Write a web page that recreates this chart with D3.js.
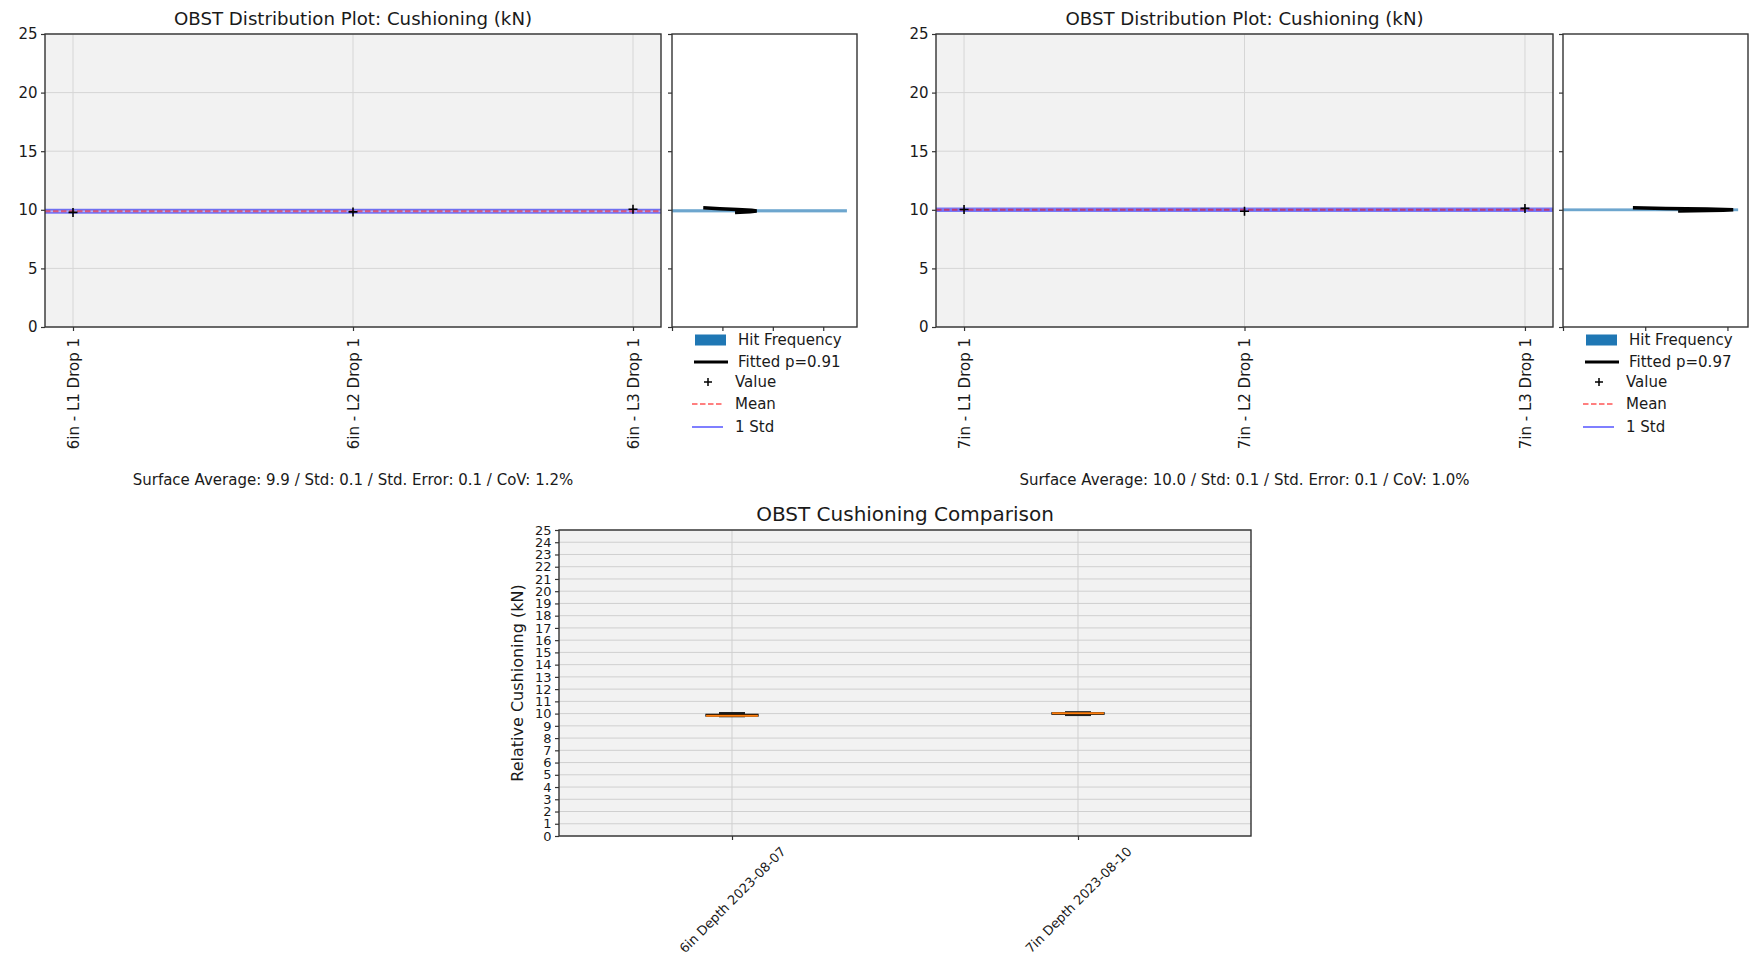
<!DOCTYPE html>
<html><head><meta charset="utf-8">
<script src="https://cdn.jsdelivr.net/npm/d3@7"></script>
<style>
body{margin:0;background:#fff;}
text{font-family:"DejaVu Sans",sans-serif;fill:#1a1a1a;}
</style>
</head><body>
<svg id="c" width="1756" height="953"></svg>
<script>
// ---------- DATA ----------
const yTicksTop = [0, 5, 10, 15, 20, 25];
const yTicksBottom = d3.range(0, 26, 1);

const cats6 = ["6in - L1 Drop 1", "6in - L2 Drop 1", "6in - L3 Drop 1"];
const vals6 = [9.78, 9.82, 10.05];
const histEdges6 = [9.78, 10.05];
const histDens6 = [3.47];
const fitVals6 = [10.17, 10.10, 10.03, 9.96, 9.90, 9.84, 9.78];
const fitDens6 = [0.62, 0.95, 1.30, 1.58, 1.68, 1.55, 1.25];
const fitP6 = "Fitted p=0.91";
const histTicks6 = [0, 1, 2, 3];
const histMax6 = 3.67;

const cats7 = ["7in - L1 Drop 1", "7in - L2 Drop 1", "7in - L3 Drop 1"];
const vals7 = [10.02, 9.88, 10.12];
const histEdges7 = [9.88, 10.12];
const histDens7 = [2.13];
const fitVals7 = [10.18, 10.12, 10.06, 10.01, 9.96, 9.90];
const fitDens7 = [0.85, 1.25, 1.75, 2.07, 1.95, 1.40];
const fitP7 = "Fitted p=0.97";
const histTicks7 = [0, 1, 2];
const histMax7 = 2.25;

const boxLabels = ["6in Depth 2023-08-07", "7in Depth 2023-08-10"];
const boxSeries = [vals6, vals7];

const legendLabels = ["Hit Frequency", null, "Value", "Mean", "1 Std"];

// ---------- STYLE ----------
const FS = 15;
const SPINE = "#333";
const GRID = "#d6d6d6";
const BG = "#f2f2f2";

const svg = d3.select("#c");

function fmtSummary(v) {
  const m = d3.mean(v);
  const s = Math.sqrt(d3.mean(v.map(d => (d - m) * (d - m))));
  return `Surface Average: ${m.toFixed(1)} / Std: ${s.toFixed(1)} / Std. Error: ${(s / Math.sqrt(v.length)).toFixed(1)} / CoV: ${(s / m * 100).toFixed(1)}%`;
}

function drawDist(o) {
  const g = svg.append("g");
  const [top, bot] = [34, 327];
  const y = d3.scaleLinear().domain([0, 25]).range([bot, top]);
  const x = d3.scalePoint().domain(o.cats).range(o.mainX).padding(0.1);
  const [x0, x1] = o.mainX;
  const m = d3.mean(o.vals);
  const s = Math.sqrt(d3.mean(o.vals.map(d => (d - m) * (d - m))));

  // title
  g.append("text").attr("x", (x0 + x1) / 2).attr("y", 19).attr("dy", "0.35em")
    .attr("text-anchor", "middle").style("font-size", "18.2px")
    .text("OBST Distribution Plot: Cushioning (kN)");

  // main background
  g.append("rect").attr("x", x0).attr("y", top).attr("width", x1 - x0).attr("height", bot - top).attr("fill", BG);
  // grid
  g.append("g").selectAll("line").data(yTicksTop).join("line")
    .attr("x1", x0).attr("x2", x1).attr("y1", d => y(d)).attr("y2", d => y(d))
    .attr("stroke", GRID).attr("stroke-width", 1);
  g.append("g").selectAll("line").data(o.cats).join("line")
    .attr("x1", d => x(d)).attr("x2", d => x(d)).attr("y1", top).attr("y2", bot)
    .attr("stroke", GRID).attr("stroke-width", 1);

  // std lines
  g.append("g").selectAll("line").data([m - s, m + s]).join("line")
    .attr("x1", x0).attr("x2", x1).attr("y1", d => y(d)).attr("y2", d => y(d))
    .attr("stroke", "#0000ff").attr("stroke-opacity", 0.5).attr("stroke-width", 2.2);
  // mean line
  g.append("line").attr("x1", x0).attr("x2", x1).attr("y1", y(m)).attr("y2", y(m))
    .attr("stroke", "#ff0000").attr("stroke-opacity", 0.5).attr("stroke-width", 2)
    .attr("stroke-dasharray", "5.5,2.5");
  // markers
  g.append("g").selectAll("path").data(o.vals).join("path")
    .attr("transform", (d, i) => `translate(${x(o.cats[i])},${y(d)})`)
    .attr("d", "M-4.5,0H4.5M0,-4.5V4.5").attr("stroke", "#000").attr("stroke-width", 1.6);

  // main axes
  const ay = g.append("g").attr("transform", `translate(${x0},0)`)
    .call(d3.axisLeft(y).tickValues(yTicksTop).tickSize(4).tickPadding(3.5));
  const ax = g.append("g").attr("transform", `translate(0,${bot})`)
    .call(d3.axisBottom(x).tickSize(4).tickPadding(3.5));
  [ay, ax].forEach(a => {
    a.select(".domain").remove();
    a.selectAll("line").attr("stroke", SPINE).attr("stroke-width", 1.2);
    a.selectAll("text").style("font-size", FS + "px").attr("fill", "#1a1a1a").style("font-family", "DejaVu Sans");
  });
  ax.selectAll("text").attr("transform", "rotate(-90)").attr("text-anchor", "end")
    .attr("x", -11).attr("y", 0).attr("dy", "0.35em");
  g.append("rect").attr("x", x0).attr("y", top).attr("width", x1 - x0).attr("height", bot - top)
    .attr("fill", "none").attr("stroke", SPINE).attr("stroke-width", 1.4);

  // summary
  g.append("text").attr("x", (x0 + x1) / 2).attr("y", 480).attr("dy", "0.35em")
    .attr("text-anchor", "middle").style("font-size", FS + "px").text(fmtSummary(o.vals));

  // ---------- histogram axes ----------
  const [h0, h1] = o.histX;
  const hx = d3.scaleLinear().domain([0, o.histMax]).range([h0, h1]);
  g.append("rect").attr("x", h0).attr("y", top).attr("width", h1 - h0).attr("height", bot - top).attr("fill", "#fff");
  g.append("g").selectAll("rect").data(o.histDens).join("rect")
    .attr("x", hx(0)).attr("width", d => hx(d) - hx(0))
    .attr("y", (d, i) => y(o.histEdges[i + 1]))
    .attr("height", (d, i) => Math.max(1.5, y(o.histEdges[i]) - y(o.histEdges[i + 1])))
    .attr("fill", "#1f77b4").attr("fill-opacity", 0.65);
  const fit = d3.line().x((d, i) => hx(o.fitDens[i])).y(d => y(d));
  g.append("path").datum(o.fitVals).attr("d", fit).attr("fill", "none")
    .attr("stroke", "#000").attr("stroke-width", 3.5);
  const hy = g.append("g").attr("transform", `translate(${h0},0)`)
    .call(d3.axisLeft(y).tickValues(yTicksTop).tickSize(4).tickFormat(""));
  const hxa = g.append("g").attr("transform", `translate(0,${bot})`)
    .call(d3.axisBottom(hx).tickValues(o.histTicks).tickSize(4).tickFormat(""));
  [hy, hxa].forEach(a => {
    a.select(".domain").remove();
    a.selectAll("line").attr("stroke", SPINE).attr("stroke-width", 1.2);
  });
  g.append("rect").attr("x", h0).attr("y", top).attr("width", h1 - h0).attr("height", bot - top)
    .attr("fill", "none").attr("stroke", SPINE).attr("stroke-width", 1.4);

  // legend
  const lg = g.append("g").attr("transform", `translate(${h0},0)`);
  const rows = [340, 362, 382, 404, 427];
  lg.append("rect").attr("x", 23).attr("y", rows[0] - 5.5).attr("width", 31).attr("height", 11).attr("fill", "#1f77b4");
  lg.append("line").attr("x1", 22).attr("x2", 56).attr("y1", rows[1]).attr("y2", rows[1]).attr("stroke", "#000").attr("stroke-width", 3);
  lg.append("path").attr("transform", `translate(36,${rows[2]})`).attr("d", "M-4,0H4M0,-4V4").attr("stroke", "#000").attr("stroke-width", 1.5);
  lg.append("line").attr("x1", 20).attr("x2", 51).attr("y1", rows[3]).attr("y2", rows[3])
    .attr("stroke", "#ff0000").attr("stroke-opacity", 0.5).attr("stroke-width", 1.8).attr("stroke-dasharray", "5.5,2.5");
  lg.append("line").attr("x1", 20).attr("x2", 51).attr("y1", rows[4]).attr("y2", rows[4])
    .attr("stroke", "#0000ff").attr("stroke-opacity", 0.5).attr("stroke-width", 2);
  const labels = legendLabels.map(d => d === null ? o.fitLabel : d);
  lg.selectAll("text.leg").data(labels).join("text").attr("class", "leg")
    .attr("x", (d, i) => i < 2 ? 66 : 63).attr("y", (d, i) => rows[i]).attr("dy", "0.35em")
    .style("font-size", FS + "px").text(d => d);
}

drawDist({cats: cats6, vals: vals6, histEdges: histEdges6, histDens: histDens6,
  fitVals: fitVals6, fitDens: fitDens6, fitLabel: fitP6, mainX: [45, 661], histX: [672, 857],
  histMax: histMax6, histTicks: histTicks6});
drawDist({cats: cats7, vals: vals7, histEdges: histEdges7, histDens: histDens7,
  fitVals: fitVals7, fitDens: fitDens7, fitLabel: fitP7, mainX: [936, 1553], histX: [1563, 1748],
  histMax: histMax7, histTicks: histTicks7});

// ---------- bottom comparison boxplot ----------
(function () {
  const [x0, x1, top, bot] = [559, 1251, 530, 836];
  const g = svg.append("g");
  const y = d3.scaleLinear().domain([0, 25]).range([bot, top]);
  const x = d3.scalePoint().domain(boxLabels).range([x0, x1]).padding(0.5);
  const step = x.step();
  const boxW = 0.15 * step;

  g.append("text").attr("x", (x0 + x1) / 2).attr("y", 514).attr("dy", "0.35em")
    .attr("text-anchor", "middle").style("font-size", "20px").text("OBST Cushioning Comparison");

  g.append("rect").attr("x", x0).attr("y", top).attr("width", x1 - x0).attr("height", bot - top).attr("fill", BG);
  g.append("g").selectAll("line").data(yTicksBottom).join("line")
    .attr("x1", x0).attr("x2", x1).attr("y1", d => y(d)).attr("y2", d => y(d))
    .attr("stroke", "#cfcfcf").attr("stroke-width", 1);
  g.append("g").selectAll("line").data(boxLabels).join("line")
    .attr("x1", d => x(d)).attr("x2", d => x(d)).attr("y1", top).attr("y2", bot)
    .attr("stroke", "#cfcfcf").attr("stroke-width", 1);

  boxSeries.forEach((vals, i) => {
    const v = vals.slice().sort(d3.ascending);
    const q1 = d3.quantile(v, 0.25), med = d3.quantile(v, 0.5), q3 = d3.quantile(v, 0.75);
    const lo = v[0], hi = v[v.length - 1];
    const cx = x(boxLabels[i]);
    const b = g.append("g");
    b.append("line").attr("x1", cx).attr("x2", cx).attr("y1", y(hi)).attr("y2", y(q3)).attr("stroke", "#000").attr("stroke-width", 1.3);
    b.append("line").attr("x1", cx).attr("x2", cx).attr("y1", y(q1)).attr("y2", y(lo)).attr("stroke", "#000").attr("stroke-width", 1.3);
    [lo, hi].forEach(c => b.append("line").attr("x1", cx - boxW / 4).attr("x2", cx + boxW / 4)
      .attr("y1", y(c)).attr("y2", y(c)).attr("stroke", "#222").attr("stroke-width", 2));
    b.append("rect").attr("x", cx - boxW / 2).attr("width", boxW).attr("y", y(q3))
      .attr("height", Math.max(0.5, y(q1) - y(q3))).attr("fill", "none").attr("stroke", "#000").attr("stroke-width", 1.3);
    b.append("line").attr("x1", cx - boxW / 2).attr("x2", cx + boxW / 2).attr("y1", y(med)).attr("y2", y(med))
      .attr("stroke", "#ff7f0e").attr("stroke-width", 2);
  });

  const ay = g.append("g").attr("transform", `translate(${x0},0)`)
    .call(d3.axisLeft(y).tickValues(yTicksBottom).tickSize(4).tickPadding(3.5));
  const ax = g.append("g").attr("transform", `translate(0,${bot})`)
    .call(d3.axisBottom(x).tickSize(4).tickPadding(3.5));
  [ay, ax].forEach(a => {
    a.select(".domain").remove();
    a.selectAll("line").attr("stroke", SPINE).attr("stroke-width", 1.2);
    a.selectAll("text").style("font-size", "13px").attr("fill", "#1a1a1a").style("font-family", "DejaVu Sans");
  });
  ax.selectAll("text").each(function () {
    const t = d3.select(this);
    const L = this.getComputedTextLength();
    const h = 13 * 1.1;
    const H = (L + h) * Math.SQRT1_2;
    t.attr("text-anchor", "middle").attr("dy", "0.35em").attr("y", 0)
      .attr("transform", `translate(0,${8 + H / 2}) rotate(-45)`);
  });
  g.append("rect").attr("x", x0).attr("y", top).attr("width", x1 - x0).attr("height", bot - top)
    .attr("fill", "none").attr("stroke", SPINE).attr("stroke-width", 1.4);

  g.append("text").attr("transform", `translate(517,683) rotate(-90)`).attr("dy", "0.35em")
    .attr("text-anchor", "middle").style("font-size", "16px").text("Relative Cushioning (kN)");
})();
</script>
</body></html>
